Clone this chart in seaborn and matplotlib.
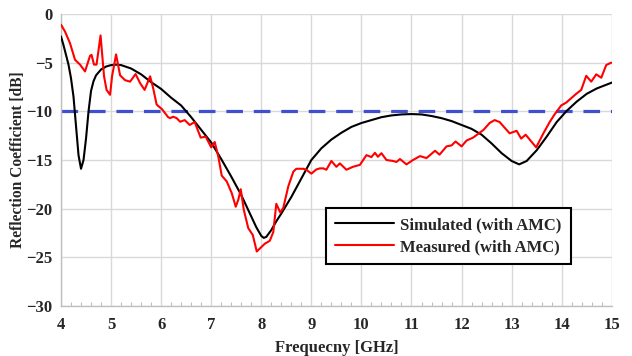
import matplotlib
matplotlib.use("Agg")
import matplotlib.pyplot as plt
from matplotlib.ticker import MultipleLocator
import seaborn as sns
import pandas as pd

# Simulated reflection coefficient (with AMC)
sim_freq = [4.00, 4.05, 4.10, 4.15, 4.20, 4.25, 4.30, 4.35, 4.40, 4.45, 4.50, 4.55,
            4.60, 4.65, 4.70, 4.80, 4.90, 5.00, 5.10, 5.20, 5.40, 5.60, 5.80, 6.00,
            6.20, 6.40, 6.60, 6.80, 7.00, 7.20, 7.40, 7.60, 7.80, 7.90, 8.00, 8.05,
            8.10, 8.20, 8.30, 8.40, 8.60, 8.80, 9.00, 9.20, 9.40, 9.60, 9.80, 10.00,
            10.20, 10.40, 10.60, 10.80, 11.00, 11.20, 11.40, 11.60, 11.80, 12.00, 12.20,
            12.40, 12.60, 12.80, 13.00, 13.15, 13.30, 13.50, 13.70, 13.90, 14.10, 14.30,
            14.50, 14.70, 14.90, 15.00]
sim_db = [-2.3, -3.2, -4.2, -5.2, -6.6, -8.5, -11.5, -14.5, -15.9, -15.0, -12.8, -10.0,
          -7.9, -6.9, -6.3, -5.7, -5.4, -5.25, -5.2, -5.25, -5.6, -6.2, -7.0, -7.7,
          -8.6, -9.4, -10.6, -11.9, -13.2, -14.9, -16.7, -18.6, -20.8, -21.9, -22.8, -23.0,
          -22.9, -22.2, -21.3, -20.5, -18.8, -16.9, -15.0, -13.8, -12.9, -12.2, -11.6, -11.2,
          -10.9, -10.6, -10.42, -10.32, -10.28, -10.32, -10.48, -10.7, -11.0, -11.4, -11.8,
          -12.4, -13.3, -14.3, -15.1, -15.45, -15.1, -14.0, -12.6, -11.1, -9.95, -9.0,
          -8.2, -7.65, -7.25, -7.05]

# Measured reflection coefficient (with AMC)
meas_freq = [4.00, 4.08, 4.18, 4.28, 4.38, 4.48, 4.58, 4.61, 4.66, 4.71, 4.79, 4.86,
             4.91, 4.98, 5.02, 5.10, 5.18, 5.28, 5.38, 5.49, 5.58, 5.67, 5.78, 5.84,
             5.91, 6.02, 6.14, 6.18, 6.24, 6.31, 6.38, 6.47, 6.57, 6.67, 6.79, 6.89,
             7.00, 7.07, 7.14, 7.21, 7.31, 7.41, 7.49, 7.54, 7.59, 7.65, 7.74, 7.83,
             7.91, 7.97, 8.07, 8.17, 8.24, 8.30, 8.38, 8.44, 8.54, 8.64, 8.70, 8.77,
             8.84, 8.90, 9.00, 9.10, 9.17, 9.24, 9.30, 9.40, 9.50, 9.57, 9.70, 9.83,
             9.97, 10.10, 10.20, 10.27, 10.33, 10.40, 10.50, 10.63, 10.70, 10.77, 10.90,
             11.03, 11.17, 11.30, 11.47, 11.56, 11.70, 11.80, 11.88, 12.00, 12.10, 12.23,
             12.44, 12.56, 12.66, 12.76, 12.96, 13.10, 13.19, 13.28, 13.49, 13.63, 13.76,
             13.86, 13.99, 14.09, 14.29, 14.39, 14.49, 14.59, 14.69, 14.79, 14.89, 14.99]
meas_db = [-1.1, -1.8, -3.0, -4.7, -5.2, -5.9, -4.3, -4.2, -5.2, -5.2, -2.2, -6.4,
           -7.8, -8.3, -6.4, -4.15, -6.3, -6.8, -6.95, -6.17, -7.1, -7.8, -6.4, -7.6,
           -9.3, -9.8, -10.6, -10.7, -10.55, -10.7, -11.07, -10.9, -11.4, -11.1, -12.7, -12.6,
           -13.7, -13.15, -14.6, -16.6, -17.2, -18.4, -19.8, -19.1, -18.0, -20.1, -22.0, -22.7,
           -24.4, -24.1, -23.6, -23.3, -22.4, -19.5, -20.4, -19.9, -17.7, -16.2, -15.9, -15.9,
           -15.9, -16.0, -16.4, -15.97, -15.86, -15.86, -16.0, -15.1, -15.7, -15.35, -16.0, -15.7,
           -15.5, -14.5, -14.7, -14.26, -14.67, -14.3, -15.0, -15.1, -15.2, -14.9, -15.45,
           -15.0, -14.6, -14.8, -14.05, -14.45, -13.6, -13.5, -13.1, -13.6, -13.0, -12.7,
           -11.9, -11.2, -10.9, -11.1, -12.26, -12.0, -12.8, -12.4, -13.7, -12.3, -11.1,
           -10.3, -9.4, -9.1, -8.2, -7.8, -6.35, -6.95, -6.2, -6.55, -5.24, -5.0]

threshold_db = -10
x_ticks = list(range(4, 16))
y_ticks = list(range(-30, 1, 5))

sns.set_theme(style="whitegrid")
plt.rcParams["font.family"] = ["Liberation Serif", "DejaVu Serif"]
plt.rcParams["font.weight"] = "bold"

sim_df = pd.DataFrame({"freq": sim_freq, "db": sim_db})
meas_df = pd.DataFrame({"freq": meas_freq, "db": meas_db})

fig = plt.figure(figsize=(6.32, 3.56), dpi=100)
ax = fig.add_axes([0.0965, 0.1404, 0.8715, 0.8203])

ax.axhline(threshold_db, color="#3F4FD0", lw=2.3, dashes=(5.2, 3.4), zorder=2)
sns.lineplot(data=sim_df, x="freq", y="db", ax=ax, color="black", lw=1.5,
             label="Simulated (with AMC)", sort=False, zorder=3)
sns.lineplot(data=meas_df, x="freq", y="db", ax=ax, color="#FF0000", lw=1.5,
             label="Measured (with AMC)", sort=False, zorder=4)

ax.set_xlim(4, 15)
ax.set_ylim(-30, 0)
ax.set_xticks(x_ticks)
ax.set_yticks(y_ticks)
ax.xaxis.set_minor_locator(MultipleLocator(0.2))
ax.grid(True, which="major", color="#D9D9D9", lw=1.0)
ax.grid(False, which="minor")
ax.tick_params(axis="x", which="minor", direction="in", length=3, width=0.8,
               color="#BFBFBF", bottom=True)
ax.tick_params(axis="both", which="major", length=0, labelsize=12)
ax.tick_params(axis="x", which="major", pad=8)
ax.tick_params(axis="y", which="major", pad=6)
for lbl in ax.get_xticklabels() + ax.get_yticklabels():
    lbl.set_fontweight("bold")

for side in ["top", "right"]:
    ax.spines[side].set_visible(False)
for side in ["left", "bottom"]:
    ax.spines[side].set_color("#BFBFBF")
    ax.spines[side].set_linewidth(1.0)

ax.set_xlabel("Frequecny [GHz]", fontsize=12, fontweight="bold", labelpad=5)
ax.set_ylabel("Reflection Coefficient [dB]", fontsize=11.2, fontweight="bold")
ax.yaxis.set_label_coords(-0.064, 0.5)

leg = ax.legend(loc="lower right", bbox_to_anchor=(0.926, 0.143), borderaxespad=0,
                frameon=True, fancybox=False, edgecolor="black", framealpha=1,
                fontsize=12, handlelength=3.5, handletextpad=0.4,
                borderpad=0.55, labelspacing=0.35)
leg.get_frame().set_linewidth(1.5)
for t in leg.get_texts():
    t.set_fontweight("bold")

fig.savefig("out.png", dpi=100, facecolor="white")
